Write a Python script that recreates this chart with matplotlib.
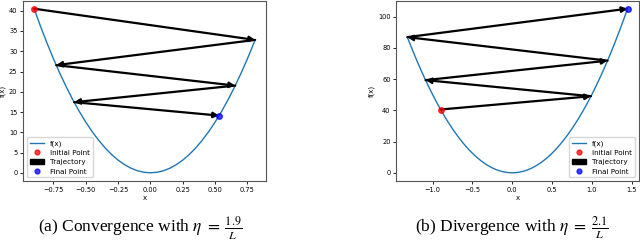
import matplotlib
matplotlib.use("Agg")
import matplotlib.pyplot as plt
from matplotlib.patches import FancyArrowPatch, Patch
from matplotlib.lines import Line2D

plt.rcParams['mathtext.fontset'] = 'stix'

# Curve samples f(x) (panel a)
curve_a_x = [-0.9, -0.85, -0.8, -0.75, -0.7, -0.65, -0.6, -0.55, -0.5, -0.45,
             -0.4, -0.35, -0.3, -0.25, -0.2, -0.15, -0.1, -0.05, 0.0,
             0.05, 0.1, 0.15, 0.2, 0.25, 0.3, 0.35, 0.4, 0.45, 0.5,
             0.55, 0.6, 0.65, 0.7, 0.75, 0.8, 0.81]
curve_a_y = [40.5, 36.125, 32.0, 28.125, 24.5, 21.125, 18.0, 15.125, 12.5, 10.125,
             8.0, 6.125, 4.5, 3.125, 2.0, 1.125, 0.5, 0.125, 0.0,
             0.125, 0.5, 1.125, 2.0, 3.125, 4.5, 6.125, 8.0, 10.125, 12.5,
             15.125, 18.0, 21.125, 24.5, 28.125, 32.0, 32.8]
# Trajectory (panel a)
traj_a_x = [-0.9, 0.81, -0.729, 0.656, -0.59, 0.531]
traj_a_y = [40.5, 32.8, 26.57, 21.52, 17.43, 14.12]

# Curve samples f(x) (panel b)
curve_b_x = [-1.318, -1.3, -1.25, -1.2, -1.15, -1.1, -1.05, -1.0, -0.95,
             -0.9, -0.85, -0.8, -0.75, -0.7, -0.65, -0.6, -0.55, -0.5, -0.45,
             -0.4, -0.35, -0.3, -0.25, -0.2, -0.15, -0.1, -0.05, 0.0,
             0.05, 0.1, 0.15, 0.2, 0.25, 0.3, 0.35, 0.4, 0.45, 0.5,
             0.55, 0.6, 0.65, 0.7, 0.75, 0.8, 0.85, 0.9,
             0.95, 1.0, 1.05, 1.1, 1.15, 1.2, 1.25, 1.3, 1.35, 1.4, 1.449]
curve_b_y = [86.8, 84.5, 78.125, 72.0, 66.125, 60.5, 55.125, 50.0, 45.125,
             40.5, 36.125, 32.0, 28.125, 24.5, 21.125, 18.0, 15.125, 12.5, 10.125,
             8.0, 6.125, 4.5, 3.125, 2.0, 1.125, 0.5, 0.125, 0.0,
             0.125, 0.5, 1.125, 2.0, 3.125, 4.5, 6.125, 8.0, 10.125, 12.5,
             15.125, 18.0, 21.125, 24.5, 28.125, 32.0, 36.125, 40.5,
             45.125, 50.0, 55.125, 60.5, 66.125, 72.0, 78.125, 84.5, 91.125, 98.0, 105.0]
# Trajectory (panel b)
traj_b_x = [-0.9, 0.99, -1.089, 1.198, -1.318, 1.449]
traj_b_y = [40.5, 49.0, 59.3, 71.75, 86.8, 105.0]

captions = [r'(a) Convergence with $\eta\;=\;\frac{1.9}{L}$',
            r'(b) Divergence with $\eta\;=\;\frac{2.1}{L}$']
legend_locs = ['lower left', 'lower right']

fig = plt.figure(figsize=(6.4, 2.5), dpi=100)
ax_a = fig.add_axes([0.036, 0.276, 0.380, 0.722])
ax_b = fig.add_axes([0.619, 0.276, 0.379, 0.722])

panels = [(ax_a, curve_a_x, curve_a_y, traj_a_x, traj_a_y, [0, 5, 10, 15, 20, 25, 30, 35, 40]),
          (ax_b, curve_b_x, curve_b_y, traj_b_x, traj_b_y, [0, 20, 40, 60, 80, 100])]

for i, (ax, cx, cy, tx, ty, yticks) in enumerate(panels):
    ax.plot(cx, cy, color='#1f77b4', lw=1.0, label='f(x)')
    for k in range(len(tx) - 1):
        arr = FancyArrowPatch((tx[k], ty[k]), (tx[k + 1], ty[k + 1]),
                              arrowstyle='-|>', mutation_scale=8,
                              color='black', lw=1.6, shrinkA=0, shrinkB=0,
                              zorder=3)
        ax.add_patch(arr)
    ax.plot([tx[0]], [ty[0]], 'o', color='red', alpha=0.75, ms=4, zorder=4)
    ax.plot([tx[-1]], [ty[-1]], 'o', color='blue', alpha=0.75, ms=4, zorder=4)
    ax.margins(0.05)
    ax.set_yticks(yticks)
    ax.tick_params(labelsize=4.8, length=2, width=0.6, pad=2)
    for s in ax.spines.values():
        s.set_linewidth(0.8)
        s.set_color('#555555')
    ax.set_xlabel('x', fontsize=5, labelpad=1.5)
    ax.set_ylabel('f(x)', fontsize=5, labelpad=2)
    handles = [Line2D([], [], color='#1f77b4', lw=1.0),
               Line2D([], [], marker='o', ls='', color='red', alpha=0.75, ms=3.5),
               Patch(color='black'),
               Line2D([], [], marker='o', ls='', color='blue', alpha=0.75, ms=3.5)]
    labels = ['f(x)', 'Initial Point', 'Trajectory', 'Final Point']
    ax.legend(handles, labels, loc=legend_locs[i], fontsize=5.2,
              handlelength=2.0, borderpad=0.4, labelspacing=0.45,
              handletextpad=0.8)

fig.text(0.219, 0.085, captions[0], ha='center', va='center',
         fontsize=12.5, family='Liberation Serif')
fig.text(0.80, 0.085, captions[1], ha='center', va='center',
         fontsize=12.5, family='Liberation Serif')

fig.savefig('out.png', dpi=100)
